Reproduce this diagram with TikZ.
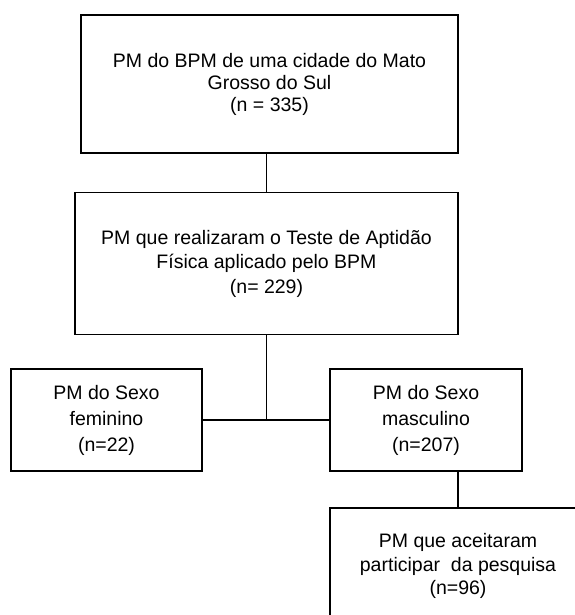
\documentclass[tikz,border=0pt]{standalone}
\usepackage{fontspec}
\setmainfont{Liberation Sans}
\begin{document}
\begin{tikzpicture}[x=1pt,y=-1pt,
  box/.style={draw=black,line width=1.1pt,align=center,inner sep=0pt,
    font=\fontsize{19.5}{22}\selectfont},
  link/.style={draw=black,line width=1.1pt}]
\useasboundingbox (0,0) rectangle (574,615);

% stages of the sample
\node[box,minimum width=377pt,minimum height=138pt] (pop) at (269.5,84)
  {PM do BPM de uma cidade do Mato\\Grosso do Sul\\(n = 335)};
\node[box,minimum width=383pt,minimum height=141.5pt,
  font=\fontsize{19.5}{24.5}\selectfont] (taf) at (266.5,263.5)
  {PM que realizaram o Teste de Aptidão\\Física aplicado pelo BPM\\(n= 229)};
\node[box,minimum width=191pt,minimum height=102pt,
  font=\fontsize{19.5}{26}\selectfont] (fem) at (106.5,420)
  {PM do Sexo\\feminino\\(n=22)};
\node[box,minimum width=192pt,minimum height=102pt,
  font=\fontsize{19.5}{26}\selectfont] (masc) at (426,420)
  {PM do Sexo\\masculino\\(n=207)};
\node[box,minimum width=256pt,minimum height=116pt,
  font=\fontsize{19.5}{23.5}\selectfont] (acc) at (458,566)
  {PM que aceitaram\\participar\ \ da pesquisa\\(n=96)};

% connectors
\draw[link] (taf.north) -- (taf.north |- pop.south);
\draw[link] (taf.south) -- (taf.south |- fem.east);
\draw[link] (fem.east) -- (masc.west);
\draw[link] (acc.north) -- (acc.north |- masc.south);
\end{tikzpicture}
\end{document}
